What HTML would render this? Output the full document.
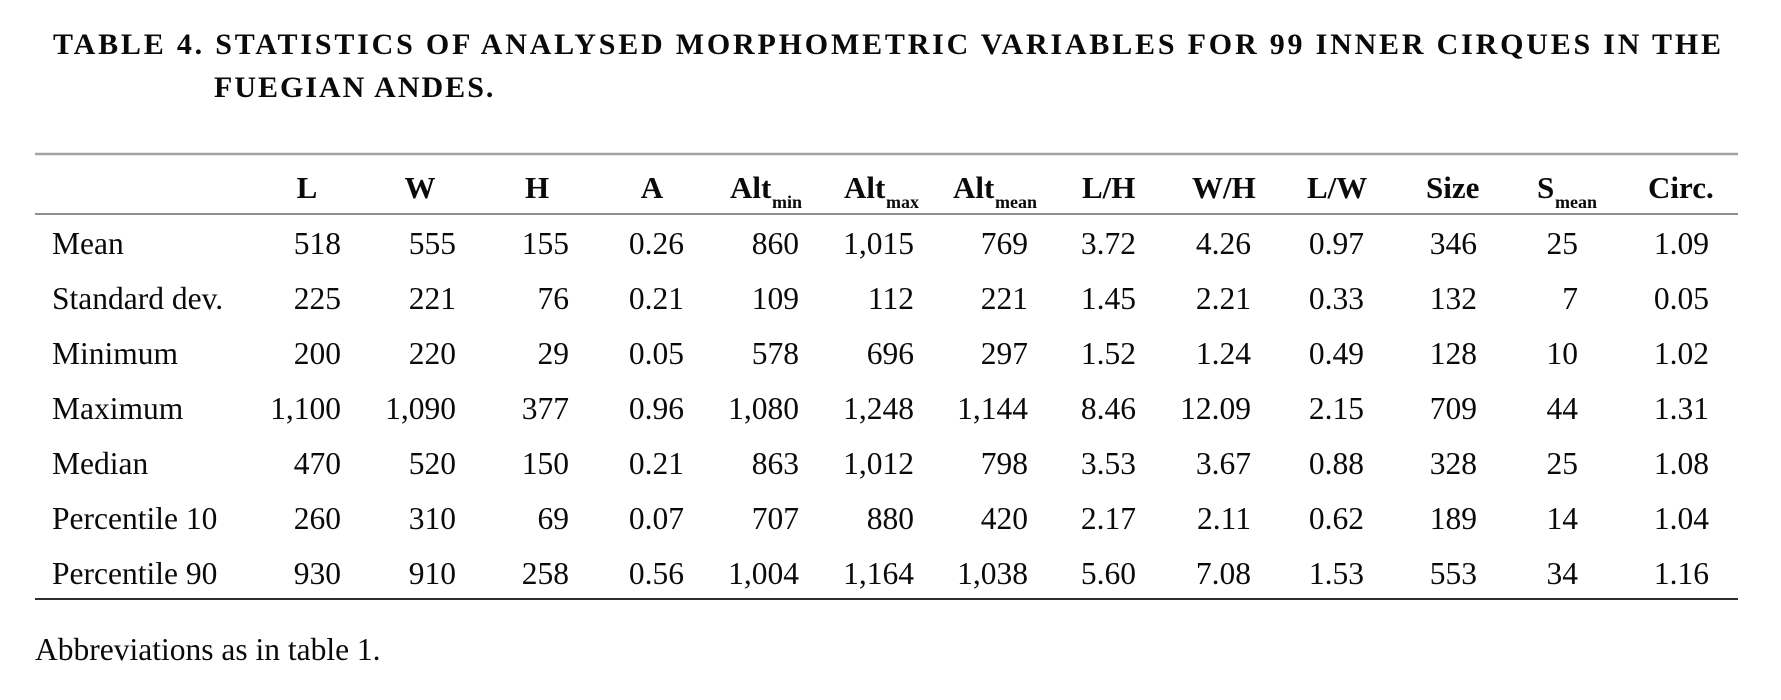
<!DOCTYPE html>
<html>
<head>
<meta charset="utf-8">
<style>
  html, body { margin: 0; padding: 0; background: #ffffff; }
  body { width: 1781px; height: 700px; overflow: hidden; }
  svg { display: block; }
  text { font-family: "Liberation Serif", "Times New Roman", serif; fill: #0a0a0a; }
  .t { font-weight: bold; font-size: 30px; }
  .h { font-weight: bold; font-size: 31px; }
  .sub { font-weight: bold; font-size: 18px; }
  .b { font-size: 31.5px; }
</style>
</head>
<body>
<svg width="1781" height="700" viewBox="0 0 1781 700" xmlns="http://www.w3.org/2000/svg">
  <!-- Title -->
  <text class="t" x="53" y="54" textLength="1668" lengthAdjust="spacing">TABLE 4. STATISTICS OF ANALYSED MORPHOMETRIC VARIABLES FOR 99 INNER CIRQUES IN THE</text>
  <text class="t" x="214" y="97" letter-spacing="2">FUEGIAN ANDES.</text>

  <!-- Rules -->
  <line x1="35" y1="154" x2="1738" y2="154" stroke="#a3a3a3" stroke-width="2.4"/>
  <line x1="35" y1="214" x2="1738" y2="214" stroke="#8f8f8f" stroke-width="2"/>
  <line x1="35" y1="599" x2="1738" y2="599" stroke="#111" stroke-width="1.8"/>

  <!-- Header -->
  <g>
    <text class="h" x="307" y="198" text-anchor="middle">L</text>
    <text class="h" x="420" y="198" text-anchor="middle">W</text>
    <text class="h" x="537" y="198" text-anchor="middle">H</text>
    <text class="h" x="652" y="198" text-anchor="middle">A</text>
    <text class="h" x="730" y="198">Alt</text>
    <text class="h" x="844" y="198">Alt</text>
    <text class="h" x="953" y="198">Alt</text>
    <text class="h" x="1082" y="198">L/H</text>
    <text class="h" x="1192" y="198">W/H</text>
    <text class="h" x="1307" y="198">L/W</text>
    <text class="h" x="1426" y="198">Size</text>
    <text class="h" x="1537" y="198">S</text>
    <text class="h" x="1648" y="198">Circ.</text>
  </g>
  <text class="sub" x="772" y="208">min</text>
  <text class="sub" x="886" y="208">max</text>
  <text class="sub" x="995" y="208">mean</text>
  <text class="sub" x="1555" y="208">mean</text>

  <!-- Row labels -->
  <g>
    <text class="b" x="52" y="254">Mean</text>
    <text class="b" x="52" y="309">Standard dev.</text>
    <text class="b" x="52" y="364">Minimum</text>
    <text class="b" x="52" y="419">Maximum</text>
    <text class="b" x="52" y="474">Median</text>
    <text class="b" x="52" y="529">Percentile 10</text>
    <text class="b" x="52" y="584">Percentile 90</text>
  </g>

  <g text-anchor="end">
    <text class="b" x="341" y="254">518</text>
    <text class="b" x="341" y="309">225</text>
    <text class="b" x="341" y="364">200</text>
    <text class="b" x="341" y="419">1,100</text>
    <text class="b" x="341" y="474">470</text>
    <text class="b" x="341" y="529">260</text>
    <text class="b" x="341" y="584">930</text>

    <text class="b" x="456" y="254">555</text>
    <text class="b" x="456" y="309">221</text>
    <text class="b" x="456" y="364">220</text>
    <text class="b" x="456" y="419">1,090</text>
    <text class="b" x="456" y="474">520</text>
    <text class="b" x="456" y="529">310</text>
    <text class="b" x="456" y="584">910</text>

    <text class="b" x="569" y="254">155</text>
    <text class="b" x="569" y="309">76</text>
    <text class="b" x="569" y="364">29</text>
    <text class="b" x="569" y="419">377</text>
    <text class="b" x="569" y="474">150</text>
    <text class="b" x="569" y="529">69</text>
    <text class="b" x="569" y="584">258</text>

    <text class="b" x="684" y="254">0.26</text>
    <text class="b" x="684" y="309">0.21</text>
    <text class="b" x="684" y="364">0.05</text>
    <text class="b" x="684" y="419">0.96</text>
    <text class="b" x="684" y="474">0.21</text>
    <text class="b" x="684" y="529">0.07</text>
    <text class="b" x="684" y="584">0.56</text>

    <text class="b" x="799" y="254">860</text>
    <text class="b" x="799" y="309">109</text>
    <text class="b" x="799" y="364">578</text>
    <text class="b" x="799" y="419">1,080</text>
    <text class="b" x="799" y="474">863</text>
    <text class="b" x="799" y="529">707</text>
    <text class="b" x="799" y="584">1,004</text>

    <text class="b" x="914" y="254">1,015</text>
    <text class="b" x="914" y="309">112</text>
    <text class="b" x="914" y="364">696</text>
    <text class="b" x="914" y="419">1,248</text>
    <text class="b" x="914" y="474">1,012</text>
    <text class="b" x="914" y="529">880</text>
    <text class="b" x="914" y="584">1,164</text>

    <text class="b" x="1028" y="254">769</text>
    <text class="b" x="1028" y="309">221</text>
    <text class="b" x="1028" y="364">297</text>
    <text class="b" x="1028" y="419">1,144</text>
    <text class="b" x="1028" y="474">798</text>
    <text class="b" x="1028" y="529">420</text>
    <text class="b" x="1028" y="584">1,038</text>

    <text class="b" x="1136" y="254">3.72</text>
    <text class="b" x="1136" y="309">1.45</text>
    <text class="b" x="1136" y="364">1.52</text>
    <text class="b" x="1136" y="419">8.46</text>
    <text class="b" x="1136" y="474">3.53</text>
    <text class="b" x="1136" y="529">2.17</text>
    <text class="b" x="1136" y="584">5.60</text>

    <text class="b" x="1251" y="254">4.26</text>
    <text class="b" x="1251" y="309">2.21</text>
    <text class="b" x="1251" y="364">1.24</text>
    <text class="b" x="1251" y="419">12.09</text>
    <text class="b" x="1251" y="474">3.67</text>
    <text class="b" x="1251" y="529">2.11</text>
    <text class="b" x="1251" y="584">7.08</text>

    <text class="b" x="1364" y="254">0.97</text>
    <text class="b" x="1364" y="309">0.33</text>
    <text class="b" x="1364" y="364">0.49</text>
    <text class="b" x="1364" y="419">2.15</text>
    <text class="b" x="1364" y="474">0.88</text>
    <text class="b" x="1364" y="529">0.62</text>
    <text class="b" x="1364" y="584">1.53</text>

    <text class="b" x="1477" y="254">346</text>
    <text class="b" x="1477" y="309">132</text>
    <text class="b" x="1477" y="364">128</text>
    <text class="b" x="1477" y="419">709</text>
    <text class="b" x="1477" y="474">328</text>
    <text class="b" x="1477" y="529">189</text>
    <text class="b" x="1477" y="584">553</text>

    <text class="b" x="1578" y="254">25</text>
    <text class="b" x="1578" y="309">7</text>
    <text class="b" x="1578" y="364">10</text>
    <text class="b" x="1578" y="419">44</text>
    <text class="b" x="1578" y="474">25</text>
    <text class="b" x="1578" y="529">14</text>
    <text class="b" x="1578" y="584">34</text>

    <text class="b" x="1709" y="254">1.09</text>
    <text class="b" x="1709" y="309">0.05</text>
    <text class="b" x="1709" y="364">1.02</text>
    <text class="b" x="1709" y="419">1.31</text>
    <text class="b" x="1709" y="474">1.08</text>
    <text class="b" x="1709" y="529">1.04</text>
    <text class="b" x="1709" y="584">1.16</text>
  </g>

  <!-- Footnote -->
  <text class="b" x="35" y="660">Abbreviations as in table 1.</text>
</svg>
</body>
</html>
